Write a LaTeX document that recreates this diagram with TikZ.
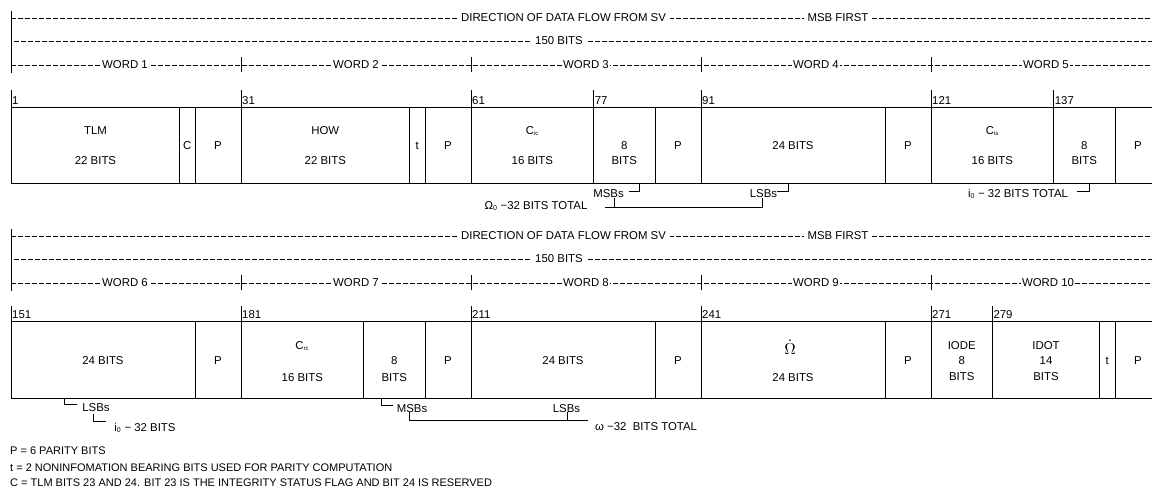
\documentclass[tikz,border=0pt]{standalone}
\usepackage{fontspec}
\setmainfont{Liberation Sans}
\begin{document}
\begin{tikzpicture}[x=1pt,y=-1pt,font=\fontsize{11.4}{13}\selectfont]
\tikzset{
  boxline/.style={line width=1pt},
  dline/.style={dash pattern=on 5pt off 2pt,line width=0.6pt},
  thin/.style={line width=0.75pt},
  hlab/.style={fill=white,inner ysep=0pt,inner xsep=4pt},
  wlab/.style={fill=white,inner ysep=0pt,inner xsep=1pt},
  num/.style={anchor=south west,inner sep=1pt},
  txt/.style={inner sep=0pt,text height=8.2pt,text depth=0pt},
  note/.style={inner sep=0pt,anchor=west,font=\fontsize{11}{13}\selectfont},
}
\clip (0,0) rectangle (1152,495);
\fill[white] (0,0) rectangle (1152,495);

% ---------------- ROW 1 header ----------------
\draw[dline] (11,18) -- (1152,18);
\draw[dline] (14,41) -- (1152,41);
\draw[dline] (11,65) -- (1152,65);
\draw[thin] (11,11) -- (11,73);
\foreach \x in {241,471,701,931} \draw[thin] (\x,57) -- (\x,72);
\node[hlab] (dirA) at (563.5,18) {DIRECTION OF DATA FLOW FROM SV};
\node[hlab] (msbA) at (838,18) {MSB FIRST};
\node[hlab] (totA) at (559,41) {150 BITS};
\foreach \c/\w in {125/1,356/2,586/3,816/4,1046/5}
  \node[wlab] (word\w) at (\c,65) {WORD \w};

% bit numbers row 1
\foreach \x/\n in {11/1,241/31,471/61,593.67/77,701/91,931/121,1053.67/137}{
  \draw[thin] (\x,90) -- (\x,107);
  \node[num] (bit\n) at (\x,105.5) {\n};
}
% box row 1
\draw[boxline] (11,107) -- (1152,107);
\draw[boxline] (11,183) -- (1152,183);
\foreach \x in {11,179.67,195,241,409.67,425,471,593.67,655,701,885,931,1053.67,1115}
  \draw[boxline] (\x,107) -- (\x,183);

\node[txt] (tlm) at (95.5,130) {TLM};
\node[txt] (tlmb) at (95.5,160) {22 BITS};
\node[txt] (cA) at (187.3,145) {C};
\node[txt] (pA1) at (218,145) {P};
\node[txt] (how) at (325.3,130) {HOW};
\node[txt] (howb) at (325.3,160) {22 BITS};
\node[txt] (tA) at (417.3,145) {t};
\node[txt] (pA2) at (448,145) {P};
\node[txt] (cic) at (532.3,130) {C\textsubscript{\fontsize{6}{6}\selectfont ic}};
\node[txt] (cicb) at (532.3,160) {16 BITS};
\node[txt] (eA) at (624.3,145) {8};
\node[txt] (eAb) at (624.3,160) {BITS};
\node[txt] (pA3) at (678,145) {P};
\node[txt] (omb) at (793,145) {24 BITS};
\node[txt] (pA4) at (908,145) {P};
\node[txt] (cis) at (992.3,130) {C\textsubscript{\fontsize{6}{6}\selectfont is}};
\node[txt] (cisb) at (992.3,160) {16 BITS};
\node[txt] (eB) at (1084.3,145) {8};
\node[txt] (eBb) at (1084.3,160) {BITS};
\node[txt] (pA5) at (1138,145) {P};

% annotations row 1
\node[txt] (msbsA) at (608.5,193) {MSBs};
\node[txt] (lsbsA) at (763.5,193) {LSBs};
\node[txt] (omtot) at (536,205) {Ω\textsubscript{\fontsize{7}{7}\selectfont 0} −32 BITS TOTAL};
\node[txt] (iotot) at (1018,193) {i\textsubscript{\fontsize{7}{7}\selectfont 0} − 32 BITS TOTAL};
\coordinate (m1) at (639,183); \coordinate (m2) at (639,191); \coordinate (m3) at (629,191);
\draw[thin] (m1) -- (m2) -- (m3);
\coordinate (l1) at (788,183); \coordinate (l2) at (788,191); \coordinate (l3) at (777,191);
\draw[thin] (l1) -- (l2) -- (l3);
\coordinate (q0) at (605,207); \coordinate (q1) at (614,198); \coordinate (q2) at (614,207);
\coordinate (q3) at (762,207); \coordinate (q4) at (762,198);
\draw[thin] (q0) -- (q3) -- (q4);
\draw[thin] (q1) -- (q2);
\coordinate (r1) at (1089,183); \coordinate (r2) at (1089,191); \coordinate (r3) at (1077,191);
\draw[thin] (r1) -- (r2) -- (r3);

% ---------------- ROW 2 header ----------------
\draw[dline] (11,236) -- (1152,236);
\draw[dline] (14,259) -- (1152,259);
\draw[dline] (11,283) -- (1152,283);
\draw[thin] (11,229) -- (11,291);
\foreach \x in {241,471,701,931} \draw[thin] (\x,275) -- (\x,290);
\node[hlab] (dirB) at (563.5,236) {DIRECTION OF DATA FLOW FROM SV};
\node[hlab] (msbB) at (838,236) {MSB FIRST};
\node[hlab] (totB) at (559,259) {150 BITS};
\foreach \c/\w in {125/6,356/7,586/8,816/9,1048/10}
  \node[wlab] (word\w) at (\c,283) {WORD \w};

\foreach \x/\n in {11/151,241/181,471/211,701/241,931/271,992.33/279}{
  \draw[thin] (\x,306) -- (\x,321);
  \node[num] (bit\n) at (\x,319.5) {\n};
}
\draw[boxline] (11,321) -- (1152,321);
\draw[boxline] (11,398) -- (1152,398);
\foreach \x in {11,195,241,363.67,425,471,655,701,885,931,992.33,1099.67,1115}
  \draw[boxline] (\x,321) -- (\x,398);

\node[txt] (w6b) at (103,360) {24 BITS};
\node[txt] (pB1) at (218,360) {P};
\node[txt] (crc) at (302.3,345) {C\textsubscript{\fontsize{6}{6}\selectfont rc}};
\node[txt] (crcb) at (302.3,377) {16 BITS};
\node[txt] (eC) at (394.3,360) {8};
\node[txt] (eCb) at (394.3,377) {BITS};
\node[txt] (pB2) at (448,360) {P};
\node[txt] (w8b) at (563,360) {24 BITS};
\node[txt] (pB3) at (678,360) {P};
\node[inner sep=0pt] (omdot) at (790,347) {\scalebox{1.45}{$\dot{\Omega}$}};
\node[txt] (omdotb) at (793,377) {24 BITS};
\node[txt] (pB4) at (908,360) {P};
\node[txt] (iode) at (961.7,345) {IODE};
\node[txt] (iode8) at (961.7,360) {8};
\node[txt] (iodeb) at (961.7,376) {BITS};
\node[txt] (idot) at (1046,345) {IDOT};
\node[txt] (idot14) at (1046,360) {14};
\node[txt] (idotb) at (1046,376) {BITS};
\node[txt] (tB) at (1107.3,360) {t};
\node[txt] (pB5) at (1138,360) {P};

% annotations row 2
\node[txt] (lsbsB) at (96,407) {LSBs};
\node[txt] (iob) at (145,427) {i\textsubscript{\fontsize{7}{7}\selectfont 0} − 32 BITS};
\node[txt] (msbsC) at (412,408) {MSBs};
\node[txt] (lsbsC) at (566.5,408) {LSBs};
\node[txt] (omtotB) at (646,426) {ω −32\ \ BITS TOTAL};
\coordinate (s1) at (64,398); \coordinate (s2) at (64,404); \coordinate (s3) at (77,404);
\draw[thin] (s1) -- (s2) -- (s3);
\coordinate (u1) at (93,414); \coordinate (u2) at (93,421); \coordinate (u3) at (106,421);
\draw[thin] (u1) -- (u2) -- (u3);
\coordinate (v1) at (381,398); \coordinate (v2) at (381,405); \coordinate (v3) at (393,405);
\draw[thin] (v1) -- (v2) -- (v3);
\coordinate (z1) at (409,412); \coordinate (z2) at (409,420); \coordinate (z3) at (588,420);
\coordinate (z4) at (567,412); \coordinate (z5) at (567,420);
\draw[thin] (z1) -- (z2) -- (z3);
\draw[thin] (z4) -- (z5);

% notes
\node[note] (n1) at (10,451) {P = 6 PARITY BITS};
\node[note] (n2) at (10,468) {t = 2 NONINFOMATION BEARING BITS USED FOR PARITY COMPUTATION};
\node[note] (n3) at (10,483) {C = TLM BITS 23 AND 24. BIT 23 IS THE INTEGRITY STATUS FLAG AND BIT 24 IS RESERVED};
\end{tikzpicture}
\end{document}
